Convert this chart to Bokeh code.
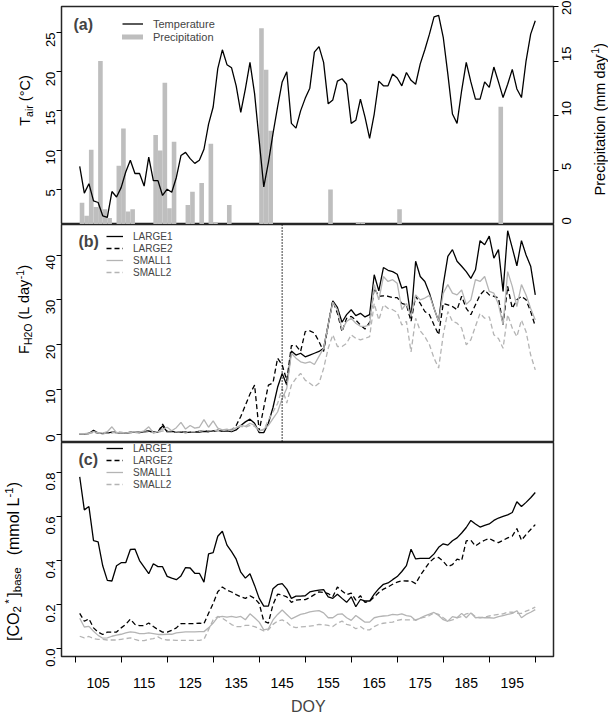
import math
from bokeh.plotting import figure
from bokeh.layouts import column, row
from bokeh.models import (Range1d, LinearAxis, FixedTicker, Label, Legend,
                          LegendItem, Span, NumeralTickFormatter)
from bokeh.embed import file_html
from bokeh.resources import INLINE

FONT = "Liberation Sans"

# ---------------- data ----------------
doy = list(range(101, 201))

tair = [7.9, 4.5, 5.7, 3.5, 3.3, 1.6, 1.4, 4.7, 4.0, 5.2,
        7.2, 8.7, 7.0, 7.0, 5.4, 9.1, 6.1, 6.1, 4.2, 5.0,
        4.6, 6.5, 9.3, 9.7, 8.9, 8.3, 8.7, 10.1, 13.3, 15.5,
        20.4, 22.8, 20.9, 20.5, 18.2, 14.8, 17.8, 21.2, 17.2, 11.2,
        5.3, 8.4, 12.1, 15.5, 18.7, 20.0, 13.4, 12.8, 15.0, 16.6,
        17.9, 22.5, 23.2, 21.2, 15.9, 16.4, 18.8, 19.1, 18.4, 13.4,
        13.8, 16.5, 14.2, 11.5, 14.6, 18.8, 18.2, 18.2, 19.7, 19.2,
        18.2, 19.9, 18.9, 18.4, 21.0, 22.8, 24.8, 27.0, 27.2, 24.4,
        19.7, 14.6, 13.4, 17.6, 21.2, 18.7, 16.5, 16.5, 18.7, 18.0,
        20.6, 18.7, 16.7, 18.4, 20.3, 17.8, 16.7, 21.4, 24.8, 26.5]

rain_doy = [101, 102, 103, 104, 105, 106, 107, 109, 110, 111, 112,
            117, 118, 119, 120, 121, 124, 125, 127, 129, 130, 133,
            140, 141, 142, 155, 161, 162, 170, 192]
rain_mm = [2.0, 0.8, 6.85, 1.6, 15.0, 1.4, 0.6, 5.4, 8.8, 1.2, 1.4,
           8.2, 6.8, 13.0, 1.5, 7.6, 1.8, 3.0, 3.8, 7.4, 0.2, 1.8,
           18.0, 14.2, 8.6, 3.2, 0.2, 0.2, 1.4, 10.8]

f_large1 = [0.1, 0.1, 0.2, 0.9, 0.3, 0.2, 0.3, 0.5, 0.4, 0.3,
            0.3, 0.4, 0.5, 0.4, 0.6, 0.8, 0.4, 0.5, 1.9, 0.6,
            0.7, 0.5, 0.5, 0.4, 0.5, 0.6, 0.5, 0.7, 0.6, 0.8,
            0.9, 0.7, 0.8, 0.6, 1.0, 2.0, 2.8, 3.4, 2.5, 0.4,
            0.4, 2.5, 6.0, 10.5, 13.6, 11.0, 18.6, 17.7, 18.1, 17.3,
            17.7, 18.1, 18.5, 19.2, 24.5, 29.8, 28.3, 25.0, 26.7, 27.8,
            26.5, 27.0, 26.2, 26.7, 35.6, 32.0, 37.2, 36.6, 36.3, 35.7,
            32.6, 33.0, 26.0, 38.6, 35.2, 34.1, 31.5, 28.1, 25.2, 33.4,
            39.7, 41.2, 38.6, 37.5, 36.3, 34.8, 36.7, 43.2, 42.3, 44.2,
            39.3, 41.2, 31.9, 45.4, 41.6, 37.6, 43.2, 40.0, 37.5, 31.1]

f_large2 = [0.0, 0.1, 0.3, 0.6, 0.3, 0.2, 0.4, 0.4, 0.5, 0.4,
            0.3, 0.5, 0.6, 0.5, 0.5, 0.8, 0.6, 0.5, 2.3, 0.7,
            0.6, 0.5, 0.5, 0.6, 0.5, 0.6, 0.7, 0.9, 0.8, 0.7,
            0.9, 0.8, 1.0, 1.0, 2.0, 4.0, 6.5, 9.0, 11.0, 0.8,
            6.0, 11.0, 11.5, 17.0, 15.5, 12.0, 19.8, 19.8, 18.5, 22.9,
            23.1, 22.6, 20.7, 18.5, 24.4, 29.8, 27.0, 22.9, 25.9, 26.3,
            25.5, 24.4, 23.5, 25.0, 32.6, 30.8, 30.9, 30.8, 30.5, 30.5,
            29.2, 28.9, 25.2, 30.8, 29.2, 27.4, 26.7, 24.4, 22.2, 29.2,
            28.9, 28.5, 27.8, 30.8, 28.1, 26.7, 28.9, 31.1, 32.2, 31.1,
            30.8, 30.4, 24.4, 33.0, 28.1, 30.0, 30.8, 30.0, 27.4, 24.1]

f_small1 = [0.2, 0.2, 0.3, 0.6, 0.4, 0.3, 0.6, 1.7, 0.4, 0.5,
            0.3, 0.5, 0.6, 0.5, 0.8, 1.7, 0.4, 0.6, 1.2, 1.6,
            0.8, 1.5, 2.7, 1.2, 2.0, 1.4, 1.6, 3.3, 1.6, 3.0,
            1.4, 1.0, 1.2, 0.8, 1.5, 2.0, 1.8, 2.5, 2.0, 0.8,
            1.2, 2.0, 3.5, 5.0, 8.0, 10.3, 18.1, 17.0, 16.2, 15.9,
            16.2, 15.6, 17.4, 19.2, 24.4, 29.5, 27.8, 23.3, 25.2, 25.9,
            24.8, 24.1, 24.1, 24.4, 33.4, 30.0, 35.2, 34.1, 34.5, 33.7,
            27.8, 29.2, 26.3, 31.1, 30.0, 30.4, 31.0, 28.1, 25.2, 31.5,
            33.4, 31.5, 31.1, 32.2, 29.0, 30.0, 34.5, 34.1, 35.2, 31.9,
            31.5, 29.0, 24.4, 36.3, 33.0, 28.5, 33.4, 31.1, 28.1, 25.5]

f_small2 = [0.1, 0.1, 0.2, 0.4, 0.3, 0.2, 0.3, 0.5, 0.3, 0.3,
            0.3, 0.4, 0.4, 0.3, 0.5, 0.6, 0.4, 0.4, 0.8, 0.5,
            0.5, 0.6, 0.5, 0.5, 0.6, 0.6, 0.7, 0.9, 0.8, 0.9,
            0.9, 0.8, 1.0, 1.2, 1.5, 1.8, 1.6, 2.0, 1.8, 0.8,
            1.0, 3.2, 5.0, 6.9, 10.3, 7.0, 11.0, 12.5, 13.6, 12.1,
            11.4, 10.6, 11.4, 14.7, 19.2, 22.2, 19.6, 19.6, 20.3, 22.2,
            21.4, 21.1, 21.4, 21.8, 29.2, 25.5, 28.9, 28.1, 27.8, 27.2,
            24.4, 25.2, 18.4, 25.9, 23.1, 21.8, 20.0, 17.0, 14.8, 22.2,
            27.4, 25.2, 24.8, 23.7, 20.0, 21.1, 24.1, 27.0, 25.9, 26.2,
            22.2, 21.4, 19.2, 26.7, 23.7, 21.8, 25.5, 22.9, 17.7, 14.4]

c_large1 = [0.78, 0.63, 0.645, 0.49, 0.485, 0.376, 0.31, 0.307, 0.376, 0.39,
            0.39, 0.45, 0.452, 0.40, 0.37, 0.34, 0.385, 0.372, 0.372, 0.328,
            0.32, 0.313, 0.33, 0.368, 0.366, 0.342, 0.342, 0.302, 0.43, 0.436,
            0.51, 0.533, 0.47, 0.44, 0.406, 0.347, 0.32, 0.34, 0.287, 0.228,
            0.193, 0.193, 0.272, 0.29, 0.295, 0.27, 0.228, 0.238, 0.238, 0.24,
            0.257, 0.262, 0.265, 0.268, 0.235, 0.228, 0.247, 0.228, 0.21, 0.235,
            0.19, 0.223, 0.216, 0.216, 0.247, 0.272, 0.292, 0.298, 0.313, 0.327,
            0.35, 0.377, 0.451, 0.407, 0.41, 0.41, 0.41, 0.43, 0.46, 0.476,
            0.47, 0.49, 0.503, 0.525, 0.55, 0.582, 0.566, 0.552, 0.56, 0.566,
            0.582, 0.593, 0.60, 0.607, 0.618, 0.667, 0.645, 0.664, 0.685, 0.709]

c_large2 = [0.16, 0.124, 0.135, 0.094, 0.075, 0.064, 0.075, 0.075, 0.075, 0.094,
            0.11, 0.134, 0.11, 0.104, 0.104, 0.116, 0.10, 0.086, 0.075, 0.075,
            0.083, 0.094, 0.113, 0.113, 0.113, 0.113, 0.116, 0.113, 0.16, 0.205,
            0.258, 0.28, 0.265, 0.257, 0.245, 0.235, 0.228, 0.24, 0.228, 0.205,
            0.124, 0.116, 0.20, 0.247, 0.243, 0.235, 0.21, 0.22, 0.222, 0.222,
            0.232, 0.245, 0.258, 0.255, 0.25, 0.235, 0.28, 0.262, 0.245, 0.252,
            0.22, 0.24, 0.21, 0.215, 0.235, 0.255, 0.27, 0.28, 0.292, 0.302,
            0.308, 0.307, 0.307, 0.295, 0.332, 0.362, 0.392, 0.41, 0.414, 0.396,
            0.372, 0.381, 0.406, 0.40, 0.489, 0.492, 0.466, 0.481, 0.492, 0.50,
            0.489, 0.481, 0.492, 0.503, 0.511, 0.545, 0.492, 0.518, 0.541, 0.563]

c_small1 = [0.138, 0.098, 0.101, 0.079, 0.06, 0.047, 0.049, 0.056, 0.061, 0.065,
            0.071, 0.076, 0.074, 0.068, 0.068, 0.071, 0.068, 0.064, 0.064, 0.065,
            0.065, 0.071, 0.074, 0.076, 0.076, 0.076, 0.077, 0.077, 0.094, 0.116,
            0.143, 0.146, 0.143, 0.146, 0.142, 0.146, 0.131, 0.158, 0.14, 0.12,
            0.085, 0.09, 0.13, 0.155, 0.175, 0.155, 0.135, 0.145, 0.155, 0.16,
            0.167, 0.17, 0.172, 0.162, 0.14, 0.14, 0.155, 0.158, 0.14, 0.128,
            0.15, 0.135, 0.12, 0.12, 0.14, 0.145, 0.148, 0.15, 0.155, 0.153,
            0.158, 0.15, 0.146, 0.128, 0.138, 0.149, 0.156, 0.164, 0.15, 0.131,
            0.124, 0.145, 0.14, 0.16, 0.14, 0.162, 0.14, 0.142, 0.14, 0.14,
            0.138, 0.145, 0.15, 0.155, 0.16, 0.172, 0.14, 0.155, 0.165, 0.177]

c_small2 = [0.056, 0.049, 0.055, 0.045, 0.042, 0.042, 0.039, 0.039, 0.039, 0.042,
            0.045, 0.049, 0.042, 0.036, 0.036, 0.042, 0.045, 0.053, 0.042, 0.039,
            0.039, 0.037, 0.037, 0.037, 0.037, 0.037, 0.037, 0.042, 0.086, 0.131,
            0.146, 0.138, 0.124, 0.109, 0.10, 0.10, 0.105, 0.105, 0.10, 0.09,
            0.08, 0.085, 0.11, 0.125, 0.13, 0.12, 0.10, 0.095, 0.098, 0.10,
            0.102, 0.105, 0.11, 0.108, 0.105, 0.10, 0.115, 0.125, 0.11, 0.105,
            0.09, 0.10, 0.085, 0.085, 0.10, 0.11, 0.115, 0.118, 0.12, 0.128,
            0.132, 0.13, 0.13, 0.13, 0.138, 0.143, 0.15, 0.162, 0.155, 0.14,
            0.125, 0.13, 0.14, 0.145, 0.158, 0.162, 0.145, 0.14, 0.142, 0.148,
            0.152, 0.155, 0.158, 0.166, 0.165, 0.16, 0.16, 0.17, 0.178, 0.188]

x_ticks = [100, 110, 120, 130, 140, 150, 160, 170, 180, 190, 200]
x_labels = [105, 115, 125, 135, 145, 155, 165, 175, 185, 195]
tair_ticks = [5, 10, 15, 20, 25]
rain_ticks = [0, 5, 10, 15, 20]
f_ticks = [0, 10, 20, 30, 40]
c_ticks = [0.0, 0.2, 0.4, 0.6, 0.8]
onset_doy = 145
series_names = ["LARGE1", "LARGE2", "SMALL1", "SMALL2"]

# ---------------- layout constants (page pixels) ----------------
X0, X1 = 97.04, 203.96
FL, FW = 61, 492
PANELS = {"a": (6, 224, 0.49, 28.33),
          "b": (224, 442, -1.8, 46.8),
          "c": (442, 659, -0.036, 0.936)}
LW, MW, RW = 34, 547, 27          # left label strip, main figure, right label strip
TOTAL_H = 714
GRAY = "#B4B4B4"
BAR = "#BEBEBE"
OUT = "#262626"


def dx(xi):
    return X0 + (xi - FL) * (X1 - X0) / FW


def dy(panel, yi):
    top, bot, lo, hi = PANELS[panel]
    return lo + (bot - yi) * (hi - lo) / (bot - top)


CW = {' ': .278, '(': .333, ')': .333, '[': .278, ']': .278, '*': .389, '-': .333,
      '°': .4, 'A': .667, 'C': .722, 'F': .611, 'H': .722, 'L': .556, 'O': .778,
      'P': .667, 'T': .611, 'a': .556, 'b': .556, 'c': .5, 'd': .556, 'e': .556,
      'i': .222, 'l': .222, 'm': .833, 'n': .556, 'o': .556, 'p': .556, 'r': .333,
      's': .5, 't': .278, 'y': .5}


def tw(s, size):
    return sum(CW.get(ch, .556) for ch in s) * size


def strip(w, h):
    f = figure(width=w, height=h, x_range=Range1d(0, w), y_range=Range1d(0, h),
               output_backend="svg", toolbar_location=None, tools="", title=None,
               x_axis_location=None, y_axis_location=None, min_border=0)
    f.grid.visible = False
    f.outline_line_color = None
    f.background_fill_color = "white"
    f.border_fill_color = "white"
    return f


def vlabel(f, xmid, ycenter, parts, size=14.5, small=10.5):
    """Rotated (reading upward) multi-part label; every part centred on its own box.
    ycenter is in strip units (pixels from the strip bottom). A part
    (px, "gap") inserts extra space."""
    sizes = {"n": size, "sub": small, "sup": small}
    shifts = {"n": 0, "sub": 3.5 * size / 14.5, "sup": -4.2 * size / 14.5}

    def length(t, k):
        return t if k == "gap" else tw(t, sizes[k])

    total = sum(length(t, k) for t, k in parts)
    ycur = ycenter - total / 2
    for t, k in parts:
        if k == "gap":
            ycur += t
            continue
        lead = len(t) - len(t.lstrip(" "))
        ycur += tw(" " * lead, sizes[k])
        t = t.lstrip(" ")
        w = tw(t, sizes[k])
        f.add_layout(Label(x=xmid + shifts[k], y=ycur + w / 2, text=t,
                           angle=math.pi / 2, text_align="center",
                           text_baseline="middle", text_font=FONT,
                           text_font_size=f"{sizes[k]}px", text_color="black"))
        ycur += w


def style_yaxis(ax, ticks, standoff=6):
    ax.ticker = FixedTicker(ticks=ticks)
    ax.axis_line_color = None
    ax.major_tick_out = 5
    ax.major_tick_in = 0
    ax.major_tick_line_color = "black"
    ax.minor_tick_line_color = None
    ax.major_label_orientation = math.pi / 2
    ax.major_label_text_font = FONT
    ax.major_label_text_font_size = "13px"
    ax.major_label_text_color = "black"
    ax.major_label_standoff = standoff


xr = Range1d(X0, X1)


def make_fig(height, top, bottom, yr, xaxis):
    p = figure(width=MW, height=height, x_range=xr, y_range=yr,
               output_backend="svg", toolbar_location=None, tools="",
               title=None, x_axis_location="below" if xaxis else None,
               min_border_left=FL - LW, min_border_right=MW - (FL - LW) - FW,
               min_border_top=top, min_border_bottom=bottom)
    p.xgrid.grid_line_color = None
    p.ygrid.grid_line_color = None
    p.outline_line_color = OUT
    p.outline_line_width = 1.5
    p.background_fill_color = "white"
    p.border_fill_color = "white"
    return p


def panel_tag(p, panel, x, y, text):
    p.add_layout(Label(x=dx(x), y=dy(panel, y), text=text, text_font=FONT,
                       text_font_style="bold", text_font_size="16px",
                       text_align="left", text_baseline="middle"))


def make_legend(items, loc, size, gw, gh):
    return Legend(items=items, location=loc, padding=0, spacing=0, margin=0,
                  border_line_color=None, background_fill_alpha=0,
                  label_text_font=FONT, label_text_font_size=size,
                  glyph_width=gw, glyph_height=gh, label_height=gh,
                  label_standoff=10)


# ---------------- left label strip (whole height) ----------------
left = strip(LW, TOTAL_H)
vlabel(left, 24.5, TOTAL_H - 100, [("T", "n"), ("air", "sub"), (" (°C)", "n")])
vlabel(left, 23.5, TOTAL_H - 309, [("F", "n"), ("H2O", "sub"), (" (L day", "n"),
                                   ("-1", "sup"), (")", "n")])
vlabel(left, 13, TOTAL_H - 561,
       [("[CO", "n"), ("2", "sub"), (2.5, "gap"), ("*", "sup"), (2.5, "gap"),
        ("]", "n"), ("base", "sub"), (12, "gap"), ("(mmol L", "n"),
        ("-1", "sup"), (")", "n")], size=16, small=11.5)

# ---------------- panel (a) ----------------
pa = make_fig(224, 6, 0, Range1d(0.49, 28.33), False)
pa.extra_y_ranges = {"precip": Range1d(0, 20)}
pa.quad(left=rain_doy, right=[d + 1 for d in rain_doy], bottom=0, top=rain_mm,
        y_range_name="precip", fill_color=BAR, line_color=None)
r_t = pa.line(doy, tair, line_color="black", line_width=1.3)
r_pl = pa.line([float("nan")], [float("nan")], line_color=BAR, line_width=5,
               line_cap="round")
style_yaxis(pa.yaxis[0], tair_ticks)
rax = LinearAxis(y_range_name="precip")
style_yaxis(rax, rain_ticks, standoff=8)
pa.add_layout(rax, "right")
pa.add_layout(make_legend([LegendItem(label="Temperature", renderers=[r_t]),
                           LegendItem(label="Precipitation", renderers=[r_pl])],
                          (61, 181), "11px", 21, 13))
panel_tag(pa, "a", 73, 24, "(a)")

ra = strip(RW, 224)
vlabel(ra, 599 - (LW + MW), 224 - 115,
       [("Precipitation (mm day", "n"), ("-1", "sup"), (")", "n")])

# ---------------- panel (b) ----------------
pb = make_fig(218, 0, 0, Range1d(-1.8, 46.8), False)
rb = [pb.line(doy, f_large1, line_color="black", line_width=1.3),
      pb.line(doy, f_large2, line_color="black", line_width=1.3, line_dash="5 3"),
      pb.line(doy, f_small1, line_color=GRAY, line_width=1.3),
      pb.line(doy, f_small2, line_color=GRAY, line_width=1.3, line_dash="5 3")]
pb.add_layout(Span(location=onset_doy, dimension="height", line_color="black",
                   line_width=1.5, line_dash="1 2"))
style_yaxis(pb.yaxis[0], f_ticks)
pb.add_layout(make_legend([LegendItem(label=n, renderers=[r]) for n, r in zip(series_names, rb)],
                          (45, 164), "10px", 17, 12))
panel_tag(pb, "b", 78, 241, "(b)")

# ---------------- panel (c) ----------------
pc = make_fig(248, 0, 31, Range1d(-0.036, 0.936), True)
rc = [pc.line(doy, c_large1, line_color="black", line_width=1.3),
      pc.line(doy, c_large2, line_color="black", line_width=1.3, line_dash="5 3"),
      pc.line(doy, c_small1, line_color=GRAY, line_width=1.3),
      pc.line(doy, c_small2, line_color=GRAY, line_width=1.3, line_dash="5 3")]
style_yaxis(pc.yaxis[0], c_ticks)
pc.yaxis[0].formatter = NumeralTickFormatter(format="0.0")
xa = pc.xaxis[0]
xa.ticker = FixedTicker(ticks=x_labels, minor_ticks=x_ticks)
xa.axis_line_color = None
xa.major_tick_out = 0
xa.major_tick_in = 0
xa.minor_tick_out = 6
xa.minor_tick_in = 0
xa.minor_tick_line_color = "black"
xa.major_label_text_font = FONT
xa.major_label_text_font_size = "14px"
xa.major_label_text_color = "black"
xa.major_label_standoff = 15
pc.add_layout(make_legend([LegendItem(label=n, renderers=[r]) for n, r in zip(series_names, rc)],
                          (45, 166), "10px", 17, 12))
panel_tag(pc, "c", 78, 459, "(c)")

# ---------------- x title ----------------
bottom = strip(MW + RW, 24)
bottom.add_layout(Label(x=307 - LW, y=24 - (706 - 690), text="DOY", text_font=FONT,
                        text_font_size="16px", text_align="center",
                        text_baseline="middle"))

main = column(row(pa, ra, spacing=0), pb, pc, bottom, spacing=0)
layout = row(left, main, spacing=0)
open("out.html", "w").write(file_html(layout, INLINE))
